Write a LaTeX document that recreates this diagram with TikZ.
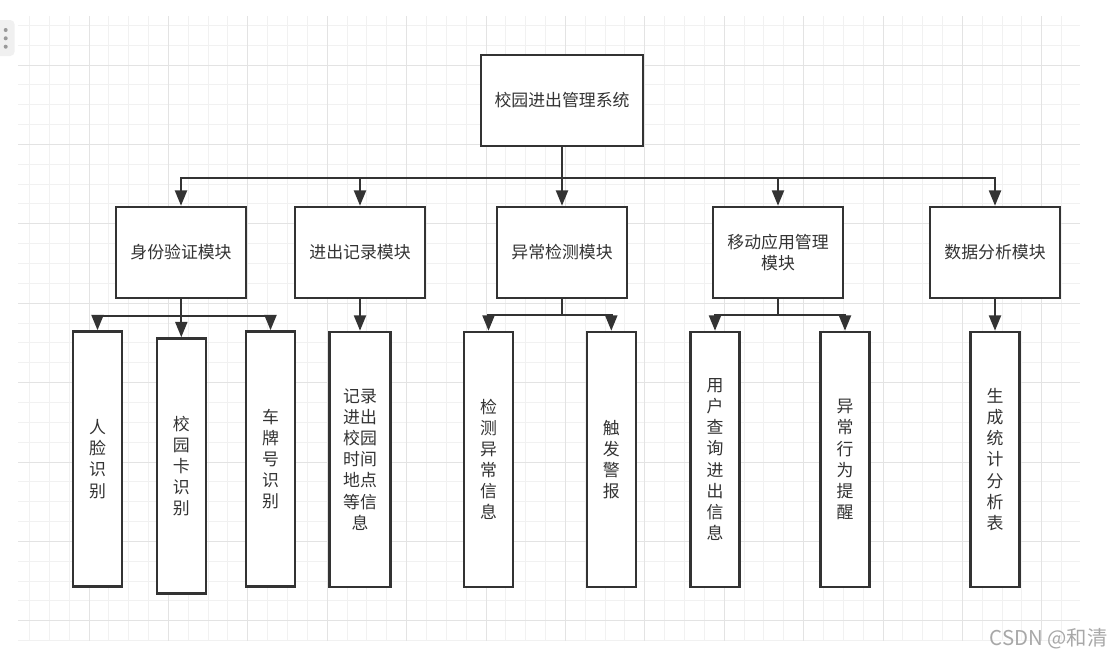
\documentclass[tikz,border=0pt]{standalone}
\usepackage{fontspec}
\setmainfont{Noto Sans CJK SC}
\usetikzlibrary{arrows.meta}
\definecolor{inkgray}{HTML}{333333}
\definecolor{gridminor}{HTML}{F1F1F1}
\definecolor{gridmajor}{HTML}{E3E3E3}
\definecolor{markgray}{HTML}{A8A8A8}
\definecolor{iconfill}{HTML}{F0F0F0}
\definecolor{icondot}{HTML}{9A9A9A}
\begin{document}
\begin{tikzpicture}[x=0.025cm, y=-0.025cm,
    sysbox/.style={rectangle, draw=inkgray, line width=1.7pt, fill=white, minimum width=4.05cm, minimum height=2.275cm, text=inkgray, font=\fontsize{12pt}{15pt}\selectfont},
    mod/.style={rectangle, draw=inkgray, line width=1.7pt, fill=white, minimum width=3.25cm, minimum height=2.275cm, text=inkgray, align=center, font=\fontsize{12pt}{15.5pt}\selectfont},
    leaf/.style={rectangle, draw=inkgray, line width=1.7pt, fill=white, minimum width=1.22cm, minimum height=6.375cm, inner sep=0pt, text=inkgray, align=center, font=\fontsize{12pt}{15pt}\selectfont},
    arr/.style={-{Triangle[width=8.5pt,length=11pt]}, draw=inkgray, line width=1.7pt}
  ]
    \useasboundingbox (0,0) rectangle (1112,659);
    \fill[white] (0,0) rectangle (1112,659);
    \foreach \gx in {0,...,52} \draw[gridminor, line width=0.7pt] ({29.45+19.85*\gx},16) -- ({29.45+19.85*\gx},641);
    \foreach \gy in {0,...,31} \draw[gridminor, line width=0.7pt] (18,{25.3+19.85*\gy}) -- (1080,{25.3+19.85*\gy});
    \foreach \gx in {0,...,12} \draw[gridmajor, line width=0.7pt] ({89+79.4*\gx},16) -- ({89+79.4*\gx},641);
    \foreach \gy in {0,...,7} \draw[gridmajor, line width=0.7pt] (18,{65+79.4*\gy}) -- (1080,{65+79.4*\gy});
    \fill[iconfill, rounded corners=3pt] (-6,20) rectangle (14.5,56);
    \foreach \dy in {30,38.3,46.7} \fill[icondot] (5.7,\dy) circle (0.05cm);
    \node[sysbox] (root) at (562,100.5) {校园进出管理系统};
    \node[mod] (m1) at (181,252.5) {身份验证模块};
    \node[mod] (m2) at (360,252.5) {进出记录模块};
    \node[mod] (m3) at (562,252.5) {异常检测模块};
    \node[mod] (m4) at (778,252.5) {移动应用管理\\模块};
    \node[mod] (m5) at (995,252.5) {数据分析模块};
    \node[leaf] (l1) at (97.5,459) {人\\脸\\识\\别};
    \node[leaf] (l2) at (181.3,466) {校\\园\\卡\\识\\别};
    \node[leaf] (l3) at (270.5,459) {车\\牌\\号\\识\\别};
    \node[leaf, minimum width=1.52cm] (l4) at (360,459.5) {记录\\进出\\校园\\时间\\地点\\等信\\息};
    \node[leaf] (l5) at (488.5,459.5) {检\\测\\异\\常\\信\\息};
    \node[leaf] (l6) at (611.3,459.5) {触\\发\\警\\报};
    \node[leaf] (l7) at (715,459.5) {用\\户\\查\\询\\进\\出\\信\\息};
    \node[leaf] (l8) at (845,459.5) {异\\常\\行\\为\\提\\醒};
    \node[leaf] (l9) at (995,459.5) {生\\成\\统\\计\\分\\析\\表};
    \node[anchor=east, inner sep=0pt, text=markgray, font=\fontsize{14.5pt}{16pt}\selectfont] (wm) at (1108,639) {CSDN @和清};
    \foreach \m in {m1,m2,m3,m4,m5} \draw[arr] (root.south) -- ++(0,31) -| (\m.north);
    \foreach \l in {l1,l2,l3} \draw[arr] (m1.south) -- ++(0,17) -| (\l.north);
    \draw[arr] (m2.south) -- (l4.north);
    \foreach \l in {l5,l6} \draw[arr] (m3.south) -- ++(0,16) -| (\l.north);
    \foreach \l in {l7,l8} \draw[arr] (m4.south) -- ++(0,16) -| (\l.north);
    \draw[arr] (m5.south) -- (l9.north);
  \end{tikzpicture}
\end{document}
